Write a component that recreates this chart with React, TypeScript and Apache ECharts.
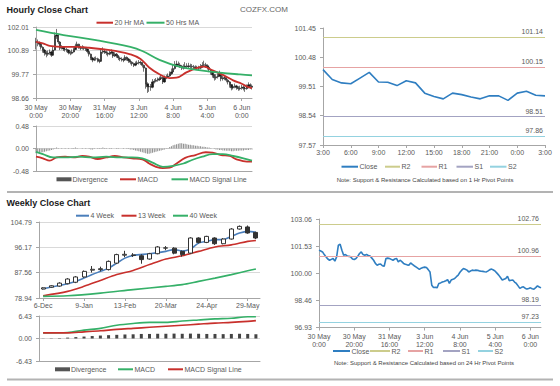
import React, { useEffect, useRef } from 'react';
import * as echarts from 'echarts';

// ---------- Hourly (top-left) ----------
const hourlyTickLabels = ['30 May\n0:00', '30 May\n20:00', '31 May\n16:00', '3 Jun\n12:00', '4 Jun\n8:00', '5 Jun\n4:00', '6 Jun\n0:00'];
const hourlyClose = [
  101.30, 101.25, 101.20, 101.05, 100.92, 100.80, 100.73, 100.78, 100.83, 100.68,
  100.92, 101.58, 101.63, 101.30, 101.01, 101.05, 100.97, 100.95, 100.92, 100.80,
  100.77, 100.83, 100.95, 101.11, 101.20, 101.05, 101.01, 101.05, 101.00, 100.97,
  100.85, 100.73, 100.55, 100.45, 100.50, 100.51, 100.42, 100.39, 100.83, 100.85,
  100.83, 100.78, 100.73, 100.80, 100.83, 100.64, 100.73, 100.65, 100.55, 100.50,
  100.47, 100.45, 100.58, 100.50, 100.42, 100.35, 100.28, 100.21, 100.28, 100.32,
  100.34, 100.32, 100.20, 100.07, 99.32, 99.19, 99.20, 99.17, 99.42, 99.45,
  99.50, 99.53, 99.57, 99.63, 99.42, 99.61, 99.65, 99.70, 99.80, 99.89,
  100.05, 100.17, 100.26, 100.22, 100.17, 100.07, 100.12, 100.17, 100.15, 100.17,
  100.16, 100.13, 100.11, 100.10, 100.08, 100.07, 100.13, 100.20, 100.23, 100.18,
  100.11, 100.00, 99.89, 99.75, 99.61, 99.66, 99.70, 99.83, 99.57, 99.60,
  99.61, 99.50, 99.42, 99.28, 99.14, 99.20, 99.23, 99.15, 99.10, 99.13,
  99.17, 99.12, 99.10, 99.18, 99.28, 99.22, 99.17,
];
const hourlyHigh = [
  101.50, 101.42, 101.33, 101.25, 101.10, 100.98, 100.88, 100.90, 100.95, 100.88,
  101.10, 101.75, 101.92, 101.68, 101.35, 101.15, 101.10, 101.05, 101.02, 100.95,
  100.88, 100.95, 101.05, 101.22, 101.32, 101.22, 101.12, 101.15, 101.10, 101.06,
  101.00, 100.88, 100.76, 100.60, 100.60, 100.62, 100.56, 100.50, 100.95, 101.05,
  100.98, 100.90, 100.85, 100.90, 100.95, 100.86, 100.82, 100.78, 100.68, 100.62,
  100.58, 100.56, 100.68, 100.62, 100.55, 100.48, 100.40, 100.33, 100.38, 100.42,
  100.45, 100.42, 100.36, 100.24, 100.10, 99.40, 99.35, 99.32, 99.55, 99.55,
  99.60, 99.63, 99.67, 99.75, 99.66, 99.72, 99.76, 99.82, 99.92, 100.05,
  100.25, 100.40, 100.42, 100.38, 100.32, 100.22, 100.25, 100.35, 100.30, 100.32,
  100.28, 100.26, 100.22, 100.20, 100.18, 100.18, 100.26, 100.35, 100.42, 100.32,
  100.25, 100.15, 100.04, 99.92, 99.80, 99.78, 99.82, 99.95, 99.86, 99.72,
  99.72, 99.66, 99.56, 99.46, 99.32, 99.30, 99.34, 99.28, 99.22, 99.24,
  99.28, 99.24, 99.20, 99.30, 99.40, 99.35, 99.30,
];
const hourlyLow = [
  100.95, 101.10, 101.08, 100.95, 100.80, 100.66, 100.58, 100.65, 100.70, 100.60,
  100.66, 100.90, 101.45, 101.20, 100.92, 100.95, 100.88, 100.85, 100.82, 100.72,
  100.68, 100.72, 100.80, 100.92, 101.05, 100.98, 100.92, 100.95, 100.92, 100.88,
  100.76, 100.62, 100.45, 100.35, 100.40, 100.42, 100.34, 100.30, 100.38, 100.75,
  100.74, 100.68, 100.62, 100.68, 100.72, 100.55, 100.60, 100.56, 100.45, 100.40,
  100.38, 100.35, 100.42, 100.42, 100.32, 100.25, 100.18, 100.12, 100.16, 100.22,
  100.24, 100.22, 100.10, 99.90, 99.10, 98.90, 98.95, 99.00, 99.12, 99.35,
  99.40, 99.43, 99.46, 99.52, 99.32, 99.38, 99.55, 99.60, 99.66, 99.76,
  99.85, 100.00, 100.12, 100.12, 100.08, 99.98, 100.00, 100.05, 100.05, 100.06,
  100.06, 100.03, 100.01, 100.00, 99.98, 99.97, 100.02, 100.08, 100.12, 100.08,
  100.00, 99.88, 99.76, 99.62, 99.48, 99.52, 99.58, 99.65, 99.45, 99.48,
  99.50, 99.40, 99.30, 99.15, 99.02, 99.06, 99.12, 99.05, 99.00, 99.02,
  99.05, 99.02, 98.95, 99.05, 99.12, 99.10, 99.06,
];
const hourlyMA20 = [[0, 101.31], [4, 101.24], [8, 101.12], [16, 101.07], [24, 101.07], [31, 101.03], [39, 100.96], [47, 100.87], [55, 100.72], [61, 100.50], [66, 100.10], [72, 99.78], [78, 99.60], [82, 99.62], [88, 99.88], [94, 100.08], [98, 100.14], [103, 99.96], [109, 99.75], [115, 99.49], [120, 99.33], [123, 99.20], [126, 99.13]];
const hourlyMA50 = [[0, 101.87], [16, 101.63], [35, 101.39], [55, 101.07], [62, 100.88], [72, 100.46], [84, 100.13], [95, 99.98], [107, 99.86], [119, 99.77], [126, 99.73]];
const hourlyMACD = [[0, -0.175], [4, -0.21], [8, -0.26], [12, -0.19], [17, -0.175], [23, -0.19], [27, -0.16], [31, -0.175], [36, -0.224], [41, -0.19], [46, -0.16], [51, -0.19], [56, -0.21], [62, -0.23], [66, -0.32], [70, -0.39], [74, -0.42], [78, -0.41], [82, -0.32], [87, -0.20], [93, -0.14], [99, -0.08], [103, -0.09], [108, -0.14], [113, -0.16], [117, -0.23], [123, -0.28], [126, -0.28]];
const hourlySignal = [[0, -0.07], [4, -0.12], [10, -0.19], [17, -0.19], [25, -0.175], [33, -0.19], [41, -0.175], [49, -0.19], [56, -0.19], [62, -0.21], [68, -0.30], [74, -0.39], [80, -0.37], [86, -0.32], [91, -0.245], [97, -0.175], [103, -0.12], [109, -0.12], [115, -0.16], [121, -0.21], [126, -0.26]];
const hourlyDivergence = [
  -0.10, -0.09, -0.09, -0.08, -0.08, -0.07, -0.06, -0.05, -0.04, -0.03,
  -0.02, 0.01, 0.02, 0.01, 0.00, -0.01, 0.00, 0.01, 0.00, -0.01,
  0.00, 0.01, 0.01, 0.02, 0.01, 0.00, 0.00, -0.01, 0.00, 0.01,
  0.00, -0.01, -0.02, -0.02, -0.01, 0.00, -0.01, -0.01, 0.01, 0.02,
  0.01, 0.01, 0.00, 0.01, 0.01, 0.00, 0.00, -0.01, -0.01, 0.00,
  0.00, -0.01, 0.00, -0.01, -0.01, -0.02, -0.02, -0.03, -0.04, -0.05,
  -0.06, -0.07, -0.08, -0.09, -0.10, -0.11, -0.11, -0.10, -0.09, -0.08,
  -0.07, -0.06, -0.05, -0.04, -0.03, -0.02, -0.01, 0.01, 0.03, 0.05,
  0.07, 0.08, 0.09, 0.10, 0.11, 0.11, 0.10, 0.10, 0.09, 0.08,
  0.08, 0.07, 0.07, 0.06, 0.06, 0.05, 0.05, 0.04, 0.04, 0.03,
  0.02, 0.02, 0.01, 0.00, -0.01, -0.02, -0.02, -0.03, -0.03, -0.04,
  -0.04, -0.05, -0.05, -0.05, -0.06, -0.06, -0.05, -0.05, -0.05, -0.04,
  -0.04, -0.04, -0.03, -0.03, -0.03, -0.02, -0.02,
];
const hourlyPriceTicks = [98.66, 99.77, 100.89, 102.01];
const hourlyMacdTicks = [-0.48, 0, 0.48];

// ---------- 1 Hr pivot (top-right) ----------
const pivotTickLabels = ['3:00', '6:00', '9:00', '12:00', '15:00', '18:00', '21:00', '0:00', '3:00'];
const pivotClose = [100.07, 99.74, 99.63, 99.60, 99.79, 99.98, 99.66, 99.65, 99.54, 99.70, 99.63, 99.29, 99.18, 99.10, 99.29, 99.24, 99.16, 99.10, 99.20, 99.20, 99.05, 99.29, 99.35, 99.22, 99.20];
const pivotTicks = [97.57, 98.54, 99.51, 100.48, 101.45];
const pivotNames = ['R2', 'R1', 'S1', 'S2'];
const hourlyPivotValues = [101.14, 100.15, 98.51, 97.86];

// ---------- 24 Hr pivot (bottom-right) ----------
const dailyPivotValues = [102.76, 100.96, 98.19, 97.23];
const dailyTicks = [96.93, 98.46, 100.0, 101.53, 103.06];

// ---------- Weekly (bottom-left) ----------
const weeklyTickLabels = ['6-Dec', '9-Jan', '13-Feb', '20-Mar', '24-Apr', '29-May'];
const weeklyOpen = [82.0, 82.6, 83.0, 83.8, 84.3, 86.1, 88.4, 88.6, 88.6, 90.8, 93.5, 93.6, 93.3, 92.2, 94.0, 95.9, 95.9, 94.8, 94.2, 99.35, 97.85, 99.35, 97.4, 99.0, 102.4, 103.1, 101.25];
const weeklyClose = [82.4, 83.1, 84.0, 85.4, 86.1, 88.0, 88.7, 88.9, 91.4, 93.7, 93.8, 93.4, 92.0, 94.0, 96.3, 96.0, 94.2, 93.7, 99.35, 97.85, 99.9, 97.4, 99.0, 102.4, 103.3, 101.05, 99.35];
const weeklyLow = [81.8, 82.4, 82.8, 83.6, 84.0, 85.8, 87.6, 88.0, 88.3, 90.5, 92.8, 92.9, 90.6, 92.0, 93.8, 95.2, 93.8, 93.0, 94.0, 97.5, 97.6, 97.0, 97.2, 98.8, 102.2, 100.8, 99.0];
const weeklyHigh = [82.6, 83.3, 84.3, 85.7, 86.4, 88.3, 89.8, 89.6, 91.7, 94.0, 95.0, 94.2, 93.8, 94.3, 96.6, 96.6, 96.2, 95.1, 99.6, 99.6, 100.1, 99.6, 99.3, 102.7, 103.6, 103.6, 101.5];
const weekly4 = [[0, 82.1], [1, 82.7], [2, 83.2], [3, 83.8], [4, 84.6], [5, 85.7], [6, 86.9], [7, 88.0], [8, 89.1], [9, 90.8], [10, 92.5], [11, 93.4], [13, 94.0], [15, 94.8], [16, 95.4], [17, 94.9], [18, 95.6], [19, 97.6], [20, 98.2], [21, 98.8], [22, 98.8], [23, 99.9], [24, 101.05], [25, 101.6], [26, 101.25]];
const weekly13 = [[0, 79.7], [3, 81.2], [5, 82.9], [7, 84.9], [9, 86.9], [11, 88.3], [13, 90.3], [15, 92.2], [17, 93.3], [19, 94.8], [21, 96.3], [23, 97.0], [25, 98.2], [26, 98.5]];
const weekly40 = [[0, 79.5], [3, 79.7], [7, 80.6], [11, 81.8], [15, 82.9], [17, 83.5], [19, 84.6], [21, 85.7], [23, 86.9], [25, 88.2], [26, 88.8]];
const weeklyMACD = [[0, 1.6], [3, 1.7], [5, 2.4], [7, 2.9], [9, 3.8], [11, 4.3], [13, 4.6], [15, 4.6], [17, 5.0], [19, 5.3], [21, 5.6], [23, 5.8], [25, 6.2], [26, 6.2]];
const weeklySignal = [[0, 1.6], [3, 1.6], [5, 1.9], [7, 2.2], [9, 2.6], [11, 2.9], [13, 3.2], [15, 3.5], [17, 3.8], [19, 4.1], [21, 4.4], [23, 4.6], [25, 4.9], [26, 5.1]];
const weeklyDivergence = [0.05, 0.08, 0.12, 0.25, 0.4, 0.55, 0.7, 0.85, 0.95, 1.05, 1.15, 1.2, 1.3, 1.3, 1.35, 1.35, 1.4, 1.35, 1.4, 1.35, 1.3, 1.3, 1.25, 1.3, 1.35, 1.3, 1.2];
const weeklyPriceTicks = [78.94, 87.56, 96.17, 104.79];
const weeklyMacdTicks = [-6.43, 0, 6.43];

// ---------- styles ----------
const FONT = '"Liberation Sans", Arial, Helvetica, sans-serif';
const TEXT = '#595959';
const AXIS = '#a6a6a6';
const GRID = '#d9d9d9';
const RED = '#c8302c';
const GREEN = '#35b068';
const BLUE = '#4a7ebb';
const CLOSE = '#2f7ec1';
const DIV = '#555555';
const PIVOT_COLORS = ['#cccc8c', '#e6a3a3', '#a3a3c2', '#94d2e0'];

const hourlyCats = hourlyClose.map((_, i) => (i % 20 === 0 ? hourlyTickLabels[i / 20] : ''));
const pivotCats = pivotClose.map((_, i) => (i % 3 === 0 ? pivotTickLabels[i / 3] : ''));
const weeklyCats = weeklyOpen.map((_, i) => (i % 5 === 0 ? weeklyTickLabels[i / 5] : ''));

function yAxis(gridIndex: number, ticks: number[], split: boolean) {
  return {
    type: 'value', gridIndex, min: ticks[0], max: ticks[ticks.length - 1],
    axisLine: { show: true, lineStyle: { color: AXIS } },
    axisTick: { show: true, length: 3, customValues: ticks, lineStyle: { color: AXIS } },
    axisLabel: { customValues: ticks, fontSize: 7, color: TEXT, fontFamily: FONT, margin: 7, formatter: (v: number) => v.toFixed(2) },
    splitLine: { show: split, lineStyle: { color: GRID, width: 1 } },
  };
}

function xAxis(gridIndex: number, data: string[], interval: number, showLabels: boolean, boundaryGap: boolean, margin: number) {
  return {
    type: 'category', gridIndex, data, boundaryGap,
    axisLine: { show: true, onZero: false, lineStyle: { color: AXIS } },
    axisTick: { show: showLabels, interval, length: 3, alignWithLabel: true, lineStyle: { color: AXIS } },
    axisLabel: { show: showLabels, interval, fontSize: 7, color: TEXT, fontFamily: FONT, margin, lineHeight: 8 },
    splitLine: { show: false },
  };
}

function line(name: string, x: number, data: any[], color: string, width = 1.8, smooth: any = 0.4) {
  return { type: 'line', name, xAxisIndex: x, yAxisIndex: x, data, symbol: 'none', smooth, z: 3, lineStyle: { color, width }, itemStyle: { color } };
}

function pivotMarks(values: number[]) {
  return {
    silent: true, symbol: 'none', animation: false,
    data: pivotNames.map((n, k) => ({
      name: n, yAxis: values[k],
      lineStyle: { color: PIVOT_COLORS[k], width: 1, type: 'solid' },
      label: { show: true, position: 'insideEndTop', formatter: values[k].toFixed(2), fontSize: 7, color: TEXT, fontFamily: FONT, distance: 2 },
    })),
  };
}

const txt = (x: number, y: number, text: string, size: number, o: any = {}) => ({
  type: 'text', x, y, silent: true,
  style: { text, fontSize: size, fontFamily: FONT, fontWeight: o.bold ? 'bold' : 'normal', fill: o.fill || TEXT, textAlign: o.align || 'left', textVerticalAlign: 'middle' },
});
const seg = (x1: number, x2: number, y: number, color: string, w: number) => ({
  type: 'line', silent: true, shape: { x1, y1: y, x2, y2: y }, style: { stroke: color, lineWidth: w },
});
const box = (x1: number, x2: number, y: number, color: string) => ({
  type: 'rect', silent: true, shape: { x: x1, y: y - 2, width: x2 - x1, height: 4 }, style: { fill: color },
});
const lineItem = (x1: number, x2: number, y: number, color: string, label: string) => [seg(x1, x2, y, color, 2), txt(x2 + 1.5, y, label, 7)];

function buildOption() {
  const hourlyCandles = hourlyClose.map((c, i) => [i > 0 ? hourlyClose[i - 1] : c, c, hourlyLow[i], hourlyHigh[i]]);
  const weeklyCandles = weeklyOpen.map((o, i) => [o, weeklyClose[i], weeklyLow[i], weeklyHigh[i]]);

  const graphic: any[] = [
    txt(6.5, 9.5, 'Hourly Close Chart', 9, { bold: true, fill: '#1a1a1a' }),
    txt(240, 9.5, 'COZFX.COM', 8, { fill: '#666' }),
    txt(6.5, 203, 'Weekly Close Chart', 9, { bold: true, fill: '#1a1a1a' }),
    seg(7, 553, 192, '#b3b3b3', 2),
    seg(7, 553, 379.5, '#b3b3b3', 2),
    ...lineItem(96.5, 113, 22.7, RED, '20 Hr MA'),
    ...lineItem(146.5, 164.5, 22.7, GREEN, '50 Hrs MA'),
    box(56.5, 71.5, 179.3, DIV), txt(72.5, 179.3, 'Divergence', 7),
    ...lineItem(120, 136, 179.3, RED, 'MACD'),
    ...lineItem(171.5, 188, 179.3, GREEN, 'MACD Signal Line'),
    ...lineItem(341.5, 358, 166.7, CLOSE, 'Close'),
    ...lineItem(385, 400, 166.7, PIVOT_COLORS[0], 'R2'),
    ...lineItem(421.5, 437, 166.7, PIVOT_COLORS[1], 'R1'),
    ...lineItem(456.5, 473, 166.7, PIVOT_COLORS[2], 'S1'),
    ...lineItem(490, 506.5, 166.7, PIVOT_COLORS[3], 'S2'),
    txt(425, 180, 'Note: Support & Resistance Calculated based on 1 Hr Pivot Points', 6, { align: 'center', fill: '#444' }),
    ...lineItem(76, 89, 215.7, BLUE, '4 Week'),
    ...lineItem(121.5, 136.5, 215.7, RED, '13 Week'),
    ...lineItem(173, 188, 215.7, GREEN, '40 Week'),
    box(55, 70, 369.3, DIV), txt(71, 369.3, 'Divergence', 7),
    ...lineItem(118, 133, 369.3, GREEN, 'MACD'),
    ...lineItem(168, 183, 369.3, RED, 'MACD Signal Line'),
    ...lineItem(333, 350, 351, CLOSE, 'Close'),
    ...lineItem(370, 390, 351, PIVOT_COLORS[0], 'R2'),
    ...lineItem(408, 423, 351, PIVOT_COLORS[1], 'R1'),
    ...lineItem(443, 460, 351, PIVOT_COLORS[2], 'S1'),
    ...lineItem(478, 493, 351, PIVOT_COLORS[3], 'S2'),
    txt(424, 362.7, 'Note: Support & Resistance Calculated based on 24 Hr Pivot Points', 6, { align: 'center', fill: '#444' }),
  ];

  return {
    animation: false,
    backgroundColor: '#ffffff',
    textStyle: { fontFamily: FONT },
    grid: [
      { left: 36, top: 27, width: 216, height: 71 },
      { left: 36, top: 126, width: 216, height: 45 },
      { left: 323, top: 28, width: 222, height: 117 },
      { left: 39, top: 222, width: 221, height: 76 },
      { left: 39, top: 316, width: 221, height: 45 },
      { left: 319, top: 219, width: 222, height: 108.5 },
    ],
    xAxis: [
      xAxis(0, hourlyCats, 19, true, false, 5),
      xAxis(1, hourlyCats, 19, false, false, 5),
      xAxis(2, pivotCats, 2, true, false, 3),
      xAxis(3, weeklyCats, 4, true, true, 3),
      xAxis(4, weeklyCats, 4, false, true, 3),
      xAxis(5, hourlyCats, 19, true, false, 5),
    ],
    yAxis: [
      yAxis(0, hourlyPriceTicks, true),
      yAxis(1, hourlyMacdTicks, true),
      yAxis(2, pivotTicks, false),
      yAxis(3, weeklyPriceTicks, true),
      yAxis(4, weeklyMacdTicks, true),
      yAxis(5, dailyTicks, false),
    ],
    series: [
      {
        type: 'candlestick', name: 'Hourly', xAxisIndex: 0, yAxisIndex: 0, data: hourlyCandles, barWidth: 1.7, z: 2,
        itemStyle: { color: '#1a1a1a', color0: '#1a1a1a', borderColor: '#1a1a1a', borderColor0: '#1a1a1a', borderWidth: 0.6 },
      },
      line('20 Hr MA', 0, hourlyMA20, RED),
      line('50 Hrs MA', 0, hourlyMA50, GREEN),
      { type: 'bar', name: 'Divergence', xAxisIndex: 1, yAxisIndex: 1, data: hourlyDivergence, barWidth: 1, itemStyle: { color: '#8c8c8c' } },
      line('MACD', 1, hourlyMACD, RED),
      line('MACD Signal Line', 1, hourlySignal, GREEN),
      { ...line('Close', 2, pivotClose, CLOSE, 1.6, false), markLine: pivotMarks(hourlyPivotValues) },
      {
        type: 'candlestick', name: 'Weekly', xAxisIndex: 3, yAxisIndex: 3, data: weeklyCandles, barWidth: 4.5, z: 4,
        itemStyle: { color: '#ffffff', color0: '#333', borderColor: '#333', borderColor0: '#333', borderWidth: 1 },
      },
      line('4 Week', 3, weekly4, BLUE, 1.6, 0.3),
      line('13 Week', 3, weekly13, RED, 1.6, 0.3),
      line('40 Week', 3, weekly40, GREEN, 1.6, 0.3),
      { type: 'bar', name: 'Divergence', xAxisIndex: 4, yAxisIndex: 4, data: weeklyDivergence, barWidth: 3, itemStyle: { color: '#444' } },
      line('MACD', 4, weeklyMACD, GREEN, 1.6, 0.3),
      line('MACD Signal Line', 4, weeklySignal, RED, 1.6, 0.3),
      { ...line('Close', 5, hourlyClose, CLOSE, 1.6, false), markLine: pivotMarks(dailyPivotValues) },
    ],
    graphic,
  };
}

export default function App() {
  const ref = useRef<HTMLDivElement>(null);
  useEffect(() => {
    const chart = echarts.init(ref.current as HTMLDivElement, null, { renderer: 'svg' });
    chart.setOption(buildOption() as any);
    return () => chart.dispose();
  }, []);
  return <div ref={ref} style={{ position: 'absolute', left: 0, top: 0, width: 560, height: 386, background: '#fff' }} />;
}
